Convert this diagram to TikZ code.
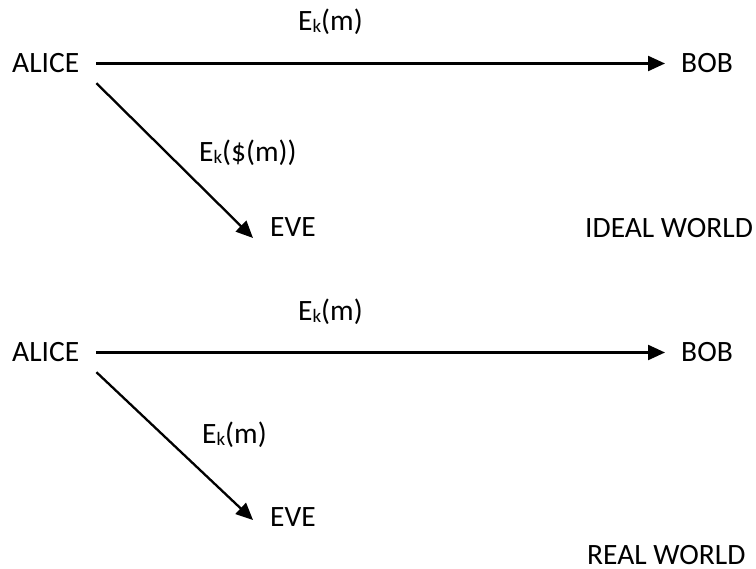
\documentclass[tikz,border=0pt]{standalone}
\usepackage{fontspec}
\setmainfont{Carlito}
\usetikzlibrary{arrows.meta}
\newcommand{\subk}{\raisebox{-2pt}{\fontsize{19}{19}\selectfont k}}
\tikzset{
  lbl/.style={anchor=base west, inner sep=0pt, text height=19pt, text depth=0pt,
              font=\fontsize{29.5}{34}\selectfont},
  msg/.style={line width=2.3pt, -{Triangle[length=17pt,width=15pt]}},
}
\begin{document}
\begin{tikzpicture}[x=1pt,y=-1pt]
  \useasboundingbox (0,0) rectangle (756,569);

  % ideal world
  \node[lbl] (aliceA) at (12,73) {ALICE};
  \node[lbl] (bobA) at (681,73) {BOB};
  \node[lbl] (eveA) at (270,237) {EVE};
  \node[lbl] (ekA) at (298,31) {E\subk(m)};
  \node[lbl] (ekdA) at (199,162) {E\subk(\$(m))};
  \node[lbl] (ideal) at (585,238) {IDEAL WORLD};
  \draw[msg, shorten <=17pt, shorten >=16pt] (aliceA.east) -- (bobA.west);
  \draw[msg] ([shift={(17pt,-10pt)}]aliceA.south east) -- ([shift={(-17pt,-10.5pt)}]eveA.west);

  % real world
  \node[lbl] (aliceB) at (12,362) {ALICE};
  \node[lbl] (bobB) at (681,362) {BOB};
  \node[lbl] (eveB) at (270,527) {EVE};
  \node[lbl] (ekB) at (298,321) {E\subk(m)};
  \node[lbl] (ekdB) at (202,444) {E\subk(m)};
  \node[lbl] (real) at (587,565) {REAL WORLD};
  \draw[msg, shorten <=17pt, shorten >=16pt] (aliceB.east) -- (bobB.west);
  \draw[msg] ([shift={(17pt,-10pt)}]aliceB.south east) -- ([shift={(-17pt,-2.5pt)}]eveB.west);
\end{tikzpicture}
\end{document}
